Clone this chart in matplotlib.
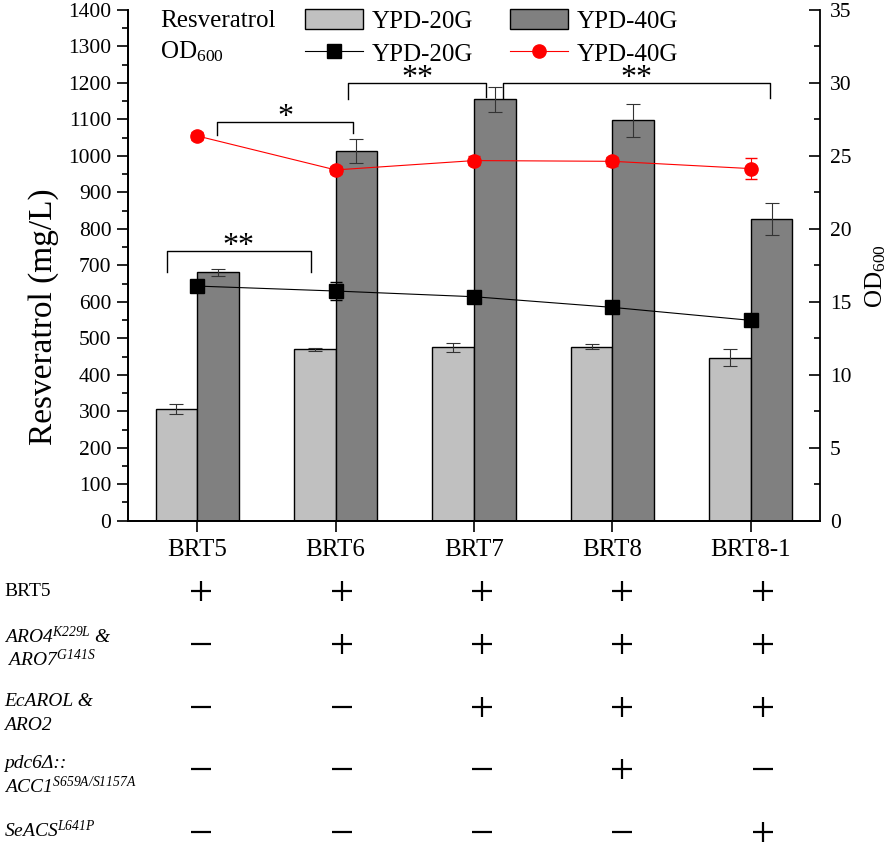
import matplotlib
matplotlib.use("Agg")
import matplotlib.pyplot as plt
import matplotlib.transforms as mtransforms
import numpy as np

plt.rcParams['font.family'] = ['Liberation Serif', 'DejaVu Serif']
plt.rcParams['mathtext.fontset'] = 'custom'
plt.rcParams['mathtext.rm'] = 'Liberation Serif:italic'
plt.rcParams['mathtext.it'] = 'Liberation Serif:italic'
plt.rcParams['mathtext.sf'] = 'Liberation Serif'

# data
strains = ['BRT5', 'BRT6', 'BRT7', 'BRT8', 'BRT8-1']
res_20 = [307, 470, 475, 477, 447]
res_20_err = [14, 4, 13, 7, 24]
res_40 = [681, 1013, 1155, 1098, 826]
res_40_err = [10, 33, 35, 45, 44]
od_20 = [16.08, 15.74, 15.35, 14.62, 13.73]
od_20_err = [0.3, 0.6, 0.3, 0.3, 0.3]
od_40 = [26.37, 24.04, 24.68, 24.63, 24.13]
od_40_err = [0.3, 0.3, 0.3, 0.3, 0.7]

# significance brackets: x left, x right, top, left end, right end, label
brackets = [
    (-0.22, 0.82, 740, 682, 682, '**'),
    (0.144, 1.126, 1092, 1057, 1063, '*'),
    (1.088, 2.089, 1200, 1155, 1162, '**'),
    (2.21, 4.14, 1200, 1160, 1160, '**'),
]

# genotype table
gene_rows = [
    ['BRT5'],
    [r'$\mathrm{ARO4}^{\mathrm{K229L}}$ &', r' $\mathrm{ARO7}^{\mathrm{G141S}}$'],
    ['EcAROL &', 'ARO2'],
    ['pdc6Δ::', r'$\mathrm{ACC1}^{\mathrm{S659A/S1157A}}$'],
    [r'$\mathrm{SeACS}^{\mathrm{L641P}}$'],
]
gene_signs = [
    ['+', '+', '+', '+', '+'],
    ['-', '+', '+', '+', '+'],
    ['-', '-', '+', '+', '+'],
    ['-', '-', '-', '+', '-'],
    ['-', '-', '-', '-', '+'],
]

W, H = 896, 844
fig = plt.figure(figsize=(W / 100, H / 100), dpi=100)
ax = fig.add_axes([128 / W, 1 - 520.7 / H, 692 / W, 510.7 / H])
ax2 = ax.twinx()

x = np.arange(len(strains))
bw = 0.3
b20 = ax.bar(x - bw / 2, res_20, bw, color='#c0c0c0', edgecolor='black', linewidth=1.0,
             yerr=res_20_err, error_kw=dict(ecolor='#333333', elinewidth=0.8, capsize=5, capthick=0.8))
b40 = ax.bar(x + bw / 2, res_40, bw, color='#808080', edgecolor='black', linewidth=1.0,
             yerr=res_40_err, error_kw=dict(ecolor='#333333', elinewidth=0.8, capsize=5, capthick=0.8))

ax2.errorbar(x, od_20, yerr=od_20_err, fmt='none', ecolor='black', elinewidth=0.8, capsize=4)
ax2.errorbar(x, od_40, yerr=od_40_err, fmt='none', ecolor='red', elinewidth=0.8, capsize=4)
l20, = ax2.plot(x, od_20, color='black', lw=0.8, marker='s', markersize=9.5)
l40, = ax2.plot(x, od_40, color='red', lw=0.8, marker='o', markersize=9.5)

ax.set_xlim(-0.5, 4.5)
ax.set_ylim(0, 1400)
ax2.set_ylim(0, 35)
ax.set_yticks(np.arange(0, 1401, 100))
ax.set_yticks(np.arange(50, 1400, 100), minor=True)
ax2.set_yticks(np.arange(0, 36, 5))
ax2.set_yticks(np.arange(2.5, 35, 5), minor=True)
ax.set_xticks(x)
ax.set_xticklabels(strains, fontsize=18)

for a in (ax, ax2):
    a.spines['top'].set_visible(False)
    for s in a.spines.values():
        s.set_linewidth(1.3)
ax.spines['right'].set_visible(False)
ax.tick_params(axis='y', which='major', direction='out', length=8, width=1.2, labelsize=15.5, pad=4)
ax.tick_params(axis='y', which='minor', direction='out', length=4, width=1.2)
ax.tick_params(axis='x', direction='out', length=8, width=1.2, pad=5)
ax2.tick_params(axis='y', which='major', direction='in', length=8, width=1.2, labelsize=15.5, pad=7)
ax2.tick_params(axis='y', which='minor', direction='in', length=4, width=1.2)

ax.set_ylabel('Resveratrol (mg/L)', fontsize=24)
ax.yaxis.set_label_coords(-0.10, 0.40)
ax2.set_ylabel(r'OD$_{\mathsf{600}}$', fontsize=18, rotation=90)
ax2.yaxis.set_label_coords(1.062, 0.479)

for x0, x1, top, e0, e1, lab in brackets:
    ax.plot([x0, x0, x1, x1], [e0, top, top, e1], color='black', lw=1.0)
    ax.text((x0 + x1) / 2, top - 8, lab, ha='center', va='baseline', fontsize=23)

# legend
fig.text(160 / W, 1 - 21 / H, 'Resveratrol', fontsize=18, va='center', ha='left')
fig.text(160 / W, 1 - 52 / H, r'OD$_{\mathsf{600}}$', fontsize=18, va='center', ha='left')
ax.legend([b20.patches[0], l20, b40.patches[0], l40], ['YPD-20G'] * 4, ncol=2,
          loc='upper left', bbox_to_anchor=(305 / W, 1 - 9 / H), bbox_transform=fig.transFigure,
          frameon=False, fontsize=18, handlelength=2.3, handleheight=0.85, handletextpad=0.35,
          columnspacing=1.5, labelspacing=0.38, borderpad=0, borderaxespad=0, numpoints=1)
leg = ax.get_legend()
leg.get_texts()[2].set_text('YPD-40G')
leg.get_texts()[3].set_text('YPD-40G')
leg.set_zorder(10)

# genotype table under the chart
trans = mtransforms.blended_transform_factory(ax.transData, fig.transFigure)
sign_x = x * 1.014 + 0.03
sign_y = [591, 644, 707, 769, 832]
label_y = [[591], [637, 660], [702, 725], [763, 787], [830]]
for r, lines in enumerate(gene_rows):
    for txt, yy in zip(lines, label_y[r]):
        style = 'normal' if r == 0 else 'italic'
        fig.text(4 / W, 1 - yy / H, txt, fontsize=14, style=style, ha='left', va='center')
    for c, s in enumerate(gene_signs[r]):
        ax.plot(sign_x[c], 1 - sign_y[r] / H, marker='+' if s == '+' else '_', color='black',
                markersize=14.5, markeredgewidth=1.6, transform=trans, clip_on=False)

fig.savefig('out.png', dpi=100)
